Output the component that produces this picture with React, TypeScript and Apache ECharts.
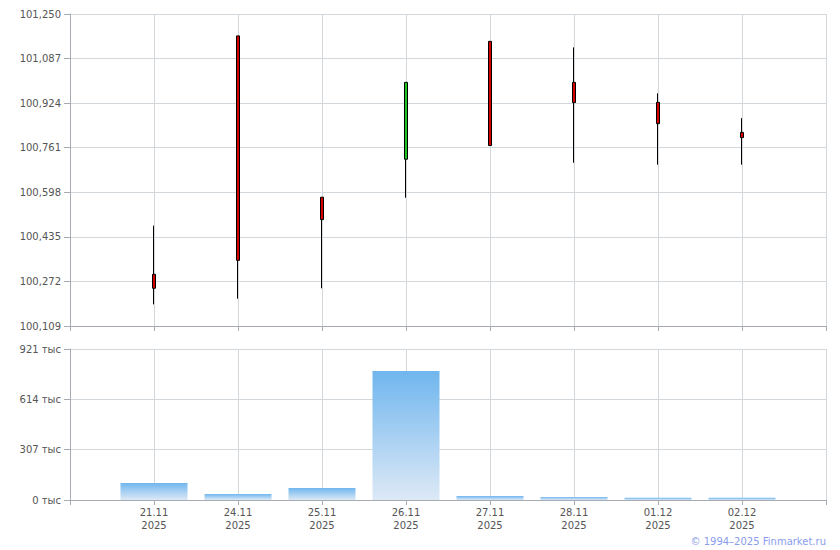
import React, { useEffect, useRef } from "react";
import * as echarts from "echarts";

const dates = ["21.11", "24.11", "25.11", "26.11", "27.11", "28.11", "01.12", "02.12"];
const year = "2025";
const opens = [100.298, 101.17, 100.58, 100.719, 101.15, 101.0, 100.927, 100.817];
const closes = [100.247, 100.349, 100.498, 101.0, 100.769, 100.926, 100.849, 100.798];
const lows = [100.188, 100.209, 100.247, 100.578, 100.769, 100.706, 100.699, 100.699];
const highs = [100.476, 101.17, 100.58, 101.0, 101.15, 101.128, 100.96, 100.869];
const volumes = [104000, 37000, 73000, 787000, 24000, 19000, 13000, 13000];

const PRICE_MIN = 100.109;
const PRICE_MAX = 101.25;
const PRICE_STEP = 0.163;
const VOL_MAX = 921000;
const VOL_STEP = 307000;

const categories = ["", ...dates.map((d) => d + "\n" + year), ""];

const toUnits = (v: number) => Math.round((v - PRICE_MIN) * 1000);

export default function App() {
  const ref = useRef<HTMLDivElement>(null);
  useEffect(() => {
    if (!ref.current) return;
    const chart = echarts.init(ref.current, null, { renderer: "svg" });
    const font = "DejaVu Sans";
    const axisGray = "#a7acb2";
    const gridGray = "#d3d8dc";
    const labelColor = "#555555";

    const candleData = dates.map((_, i) => [
      i + 1,
      toUnits(opens[i]),
      toUnits(closes[i]),
      toUnits(lows[i]),
      toUnits(highs[i]),
    ]);
    const volData = dates.map((_, i) => [i + 1, volumes[i]]);

    const xAxisBase = (gridIndex: number, showLabel: boolean) => ({
      type: "category" as const,
      gridIndex,
      data: categories,
      boundaryGap: false,
      axisLine: { show: true, onZero: false, lineStyle: { color: axisGray, width: 1 } },
      axisTick: { show: true, length: 5, lineStyle: { color: axisGray } },
      axisLabel: {
        show: showLabel,
        interval: 0,
        color: labelColor,
        fontFamily: font,
        fontSize: 10,
        lineHeight: 13,
        margin: 6,
      },
      splitLine: { show: true, interval: 0, lineStyle: { color: gridGray, width: 1 } },
    });

    chart.setOption({
      animation: false,
      backgroundColor: "#ffffff",
      grid: [
        { left: 70, right: 14, top: 14, height: 312 },
        { left: 70, right: 14, top: 349, height: 151 },
      ],
      xAxis: [xAxisBase(0, false), xAxisBase(1, true)],
      yAxis: [
        {
          type: "value",
          gridIndex: 0,
          min: 0,
          max: toUnits(PRICE_MAX),
          interval: Math.round(PRICE_STEP * 1000),
          axisLine: { show: true, lineStyle: { color: axisGray } },
          axisTick: { show: true, length: 6, lineStyle: { color: axisGray } },
          axisLabel: {
            color: labelColor,
            fontFamily: font,
            fontSize: 10,
            margin: 9,
            formatter: (v: number) => ((PRICE_MIN * 1000 + v) / 1000).toFixed(3).replace(".", ","),
          },
          splitLine: { show: true, lineStyle: { color: gridGray } },
        },
        {
          type: "value",
          gridIndex: 1,
          min: 0,
          max: VOL_MAX,
          interval: VOL_STEP,
          axisLine: { show: true, lineStyle: { color: axisGray } },
          axisTick: { show: true, length: 6, lineStyle: { color: axisGray } },
          axisLabel: {
            color: labelColor,
            fontFamily: font,
            fontSize: 10,
            margin: 9,
            formatter: (v: number) => Math.round(v / 1000) + " тыс",
          },
          splitLine: { show: true, lineStyle: { color: gridGray } },
        },
      ],
      series: [
        {
          type: "candlestick",
          xAxisIndex: 0,
          yAxisIndex: 0,
          barWidth: 4,
          data: candleData,
          encode: { x: 0, y: [1, 2, 3, 4] },
          itemStyle: {
            color: "#1fc41f",
            color0: "#d40000",
            borderColor: "#000000",
            borderColor0: "#000000",
            borderWidth: 1,
          },
        },
        {
          type: "bar",
          xAxisIndex: 1,
          yAxisIndex: 1,
          barWidth: 67,
          data: volData,
          encode: { x: 0, y: 1 },
          itemStyle: {
            color: new echarts.graphic.LinearGradient(0, 0, 0, 1, [
              { offset: 0, color: "#70b6ee" },
              { offset: 1, color: "#dde9f6" },
            ]),
          },
        },
      ],
      graphic: [
        {
          type: "text",
          right: 14,
          top: 536,
          style: {
            text: "© 1994–2025 Finmarket.ru",
            fill: "#8a9cec",
            font: "10px DejaVu Sans",
          },
        },
      ],
    });
    return () => chart.dispose();
  }, []);
  return (
    <div
      ref={ref}
      style={{ position: "absolute", left: 0, top: 0, width: 840, height: 550 }}
    />
  );
}
